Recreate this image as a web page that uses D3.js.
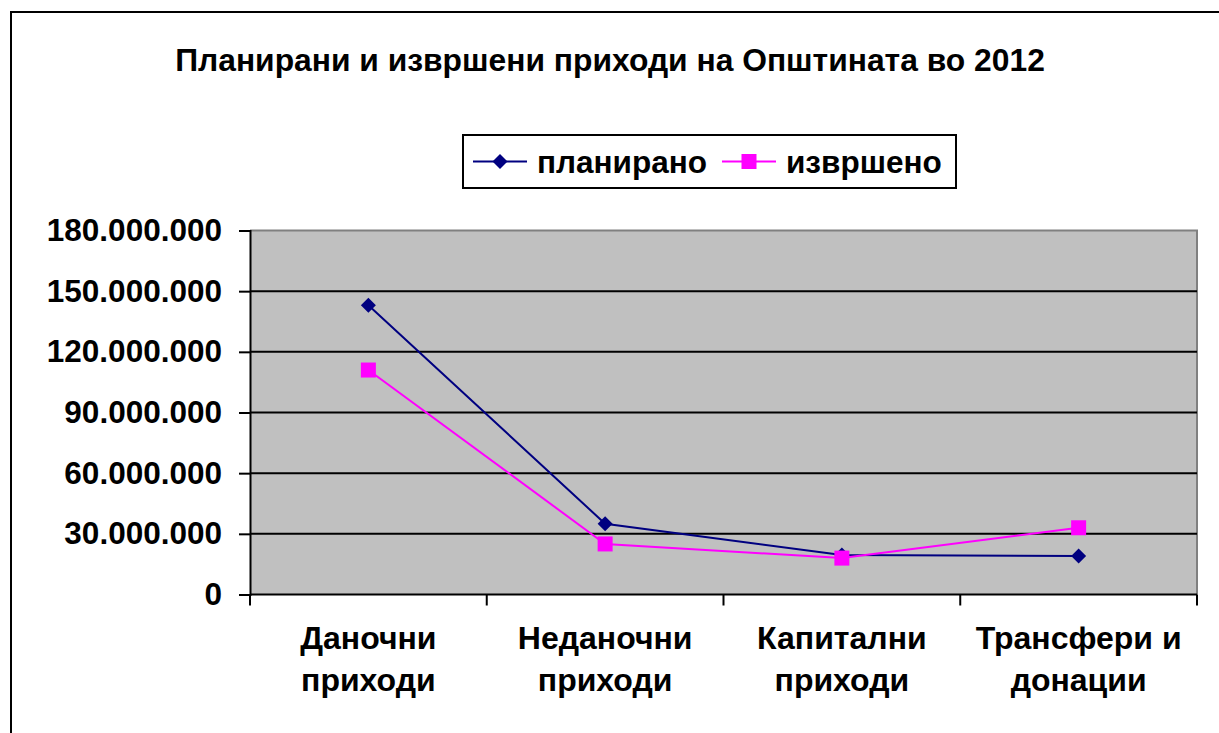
<!DOCTYPE html>
<html>
<head>
  <meta charset="utf-8">
  <title>Планирани и извршени приходи</title>
  <script src="https://d3js.org/d3.v7.min.js"></script>
  <style>
    body { margin: 0; background: #fff; }
    svg text { font-family: "Liberation Sans", Arial, sans-serif; font-weight: bold; fill: #000; }
  </style>
</head>
<body>
<svg class="chart"></svg>
<script>
// Data
const categories = [["Даночни", "приходи"], ["Неданочни", "приходи"], ["Капитални", "приходи"], ["Трансфери и", "донации"]];
const planned = [143000000, 35000000, 19500000, 19000000];
const realized = [111000000, 25000000, 18000000, 33000000];
const seriesNames = ["планирано", "извршено"];
const yTicks = [0, 30000000, 60000000, 90000000, 120000000, 150000000, 180000000];

const W = 1219, H = 733;
const plot = {left: 250, top: 230.5, right: 1197, bottom: 594.5};

const svg = d3.select(".chart").attr("width", W).attr("height", H);

// outer chart border (runs off the right and bottom)
svg.append("rect")
  .attr("x", 11).attr("y", 12).attr("width", W + 20).attr("height", H + 20)
  .attr("fill", "none").attr("stroke", "#000").attr("stroke-width", 2);

// title
svg.append("text")
  .attr("x", 610).attr("y", 71)
  .attr("text-anchor", "middle")
  .style("font-size", "31.8px")
  .text("Планирани и извршени приходи на Општината во 2012");

// scales
const keys = categories.map(d => d.join(" "));
const x = d3.scaleBand().domain(keys).range([plot.left, plot.right]);
const y = d3.scaleLinear().domain([0, 180000000]).range([plot.bottom, plot.top]);

const mk = d3.formatLocale({decimal: ",", thousands: ".", grouping: [3], currency: ["", ""]});
const fmt = mk.format(",");

// plot area
svg.append("rect")
  .attr("x", plot.left).attr("y", plot.top)
  .attr("width", plot.right - plot.left).attr("height", plot.bottom - plot.top)
  .attr("fill", "#c0c0c0");
svg.append("path")
  .attr("d", `M${plot.left},${plot.top}H${plot.right}V${plot.bottom}`)
  .attr("fill", "none").attr("stroke", "#808080").attr("stroke-width", 2);

// gridlines
svg.append("g").selectAll("line")
  .data(yTicks.slice(1, -1))
  .join("line")
  .attr("x1", plot.left).attr("x2", plot.right)
  .attr("y1", d => y(d)).attr("y2", d => y(d))
  .attr("stroke", "#000").attr("stroke-width", 2);

// y axis
const yAxis = svg.append("g")
  .attr("transform", `translate(${plot.left},0)`)
  .call(d3.axisLeft(y).tickValues(yTicks).tickFormat(fmt).tickSize(11).tickPadding(17));
yAxis.select(".domain").attr("stroke", "#000").attr("stroke-width", 2);
yAxis.selectAll(".tick line").attr("stroke", "#000").attr("stroke-width", 2);
yAxis.selectAll("text").style("font-size", "31.5px").attr("font-family", null).attr("fill", null);

// x axis: ticks at band edges
const xAxisG = svg.append("g");
xAxisG.append("line")
  .attr("x1", plot.left).attr("x2", plot.right)
  .attr("y1", plot.bottom).attr("y2", plot.bottom)
  .attr("stroke", "#000").attr("stroke-width", 2);
const edges = keys.map(k => x(k)).concat([plot.right]);
xAxisG.selectAll(".edge")
  .data(edges)
  .join("line")
  .attr("x1", d => d).attr("x2", d => d)
  .attr("y1", plot.bottom).attr("y2", plot.bottom + 11)
  .attr("stroke", "#000").attr("stroke-width", 2);
xAxisG.selectAll(".lbl")
  .data(categories)
  .join("text")
  .attr("text-anchor", "middle")
  .style("font-size", "32px")
  .each(function(d, i) {
    const cx = x(keys[i]) + x.bandwidth() / 2;
    d3.select(this).selectAll("tspan")
      .data(d)
      .join("tspan")
      .attr("x", cx)
      .attr("y", (t, j) => 649 + j * 42)
      .text(t => t);
  });

// series
const cx = i => x(keys[i]) + x.bandwidth() / 2;
const line = d3.line().x((d, i) => cx(i)).y(d => y(d));
const colors = ["#000080", "#ff00ff"];

svg.append("path").datum(planned)
  .attr("d", line).attr("fill", "none").attr("stroke", colors[0]).attr("stroke-width", 2);
svg.append("path").datum(realized)
  .attr("d", line).attr("fill", "none").attr("stroke", colors[1]).attr("stroke-width", 2);

function drawDiamond(g, px, py) {
  g.append("path")
    .attr("d", `M${px},${py - 7.5}L${px + 7.5},${py}L${px},${py + 7.5}L${px - 7.5},${py}Z`)
    .attr("fill", colors[0]);
}
function drawSquare(g, px, py) {
  g.append("rect")
    .attr("x", px - 7.5).attr("y", py - 7.5).attr("width", 15).attr("height", 15)
    .attr("fill", colors[1]);
}
const marks = svg.append("g");
planned.forEach((v, i) => drawDiamond(marks, cx(i), y(v)));
realized.forEach((v, i) => drawSquare(marks, cx(i), y(v)));

// legend
const lg = svg.append("g");
lg.append("rect")
  .attr("x", 463).attr("y", 135).attr("width", 493).attr("height", 53)
  .attr("fill", "#fff").attr("stroke", "#000").attr("stroke-width", 2);
const legendItems = [
  {name: seriesNames[0], x0: 473, draw: drawDiamond, color: colors[0]},
  {name: seriesNames[1], x0: 722, draw: drawSquare, color: colors[1]}
];
legendItems.forEach(it => {
  lg.append("line")
    .attr("x1", it.x0).attr("x2", it.x0 + 54)
    .attr("y1", 161.5).attr("y2", 161.5)
    .attr("stroke", it.color).attr("stroke-width", 2);
  it.draw(lg, it.x0 + 27, 161.5);
  lg.append("text")
    .attr("x", it.x0 + 64).attr("y", 172.5)
    .style("font-size", "31.5px")
    .text(it.name);
});
</script>
</body>
</html>
